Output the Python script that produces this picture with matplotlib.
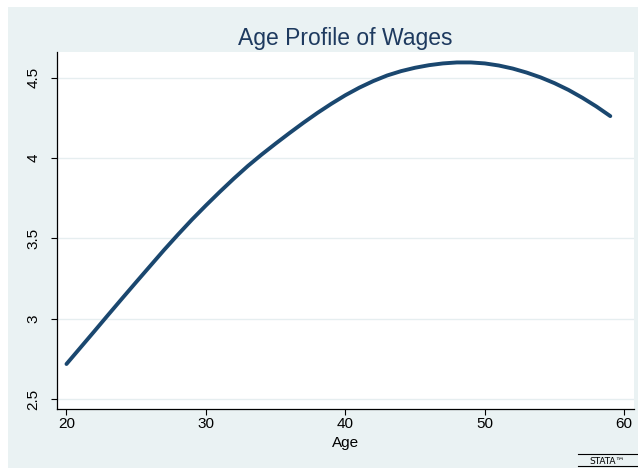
import matplotlib
matplotlib.use("Agg")
import matplotlib.pyplot as plt
from matplotlib.patches import Rectangle
from matplotlib.lines import Line2D

ages = list(range(20, 60))
wages = [2.718, 2.820, 2.922, 3.025, 3.127, 3.228, 3.328, 3.428, 3.524, 3.617,
         3.705, 3.790, 3.872, 3.950, 4.022, 4.090, 4.156, 4.220, 4.281, 4.338,
         4.391, 4.438, 4.479, 4.514, 4.541, 4.562, 4.578, 4.589, 4.595, 4.595,
         4.589, 4.576, 4.557, 4.532, 4.502, 4.466, 4.424, 4.375, 4.321, 4.261]
x_ticks = [20, 30, 40, 50, 60]
y_ticks = [2.5, 3, 3.5, 4, 4.5]
y_tick_labels = ["2.5", "3", "3.5", "4", "4.5"]
title = "Age Profile of Wages"
x_label = "Age"

plt.rcParams['font.family'] = ['Liberation Sans', 'DejaVu Sans']

W, H = 638, 468
fig = plt.figure(figsize=(W / 100, H / 100), dpi=100, facecolor="white")
bg = "#EAF2F3"
fig.patches.append(Rectangle((8 / W, 0), 1 - 8 / W, 1 - 7 / H, transform=fig.transFigure,
                             facecolor=bg, edgecolor="none", zorder=-10))

left, right, top, bottom = 57, 634, 52, 409
ax = fig.add_axes([left / W, (H - bottom) / H, (right - left) / W, (bottom - top) / H])
ax.set_facecolor("white")
ax.plot(ages, wages, color="#1A476F", linewidth=2.8, solid_capstyle="round", zorder=3)

ax.set_xlim(19.32, 60.7)
ax.set_ylim(2.438, 4.66)
ax.set_xticks(x_ticks)
ax.set_yticks(y_ticks)
ax.set_yticklabels(y_tick_labels, rotation=90, va="center")
for y in y_ticks:
    ax.axhline(y, color="#E6EEF0", linewidth=1.0, zorder=1)

for s in ["top", "right"]:
    ax.spines[s].set_visible(False)
for s in ["left", "bottom"]:
    ax.spines[s].set_color("black")
    ax.spines[s].set_linewidth(0.9)
ax.tick_params(axis="x", direction="out", length=4, width=0.8, pad=2, labelsize=11, colors="black")
ax.tick_params(axis="y", direction="out", length=4, width=0.8, pad=8, labelsize=11, colors="black")

fig.text((left + right) / 2 / W, 1 - 45.5 / H, title, ha="center", va="baseline",
         fontsize=16.5, color="#1E3A5F")
fig.text((left + right) / 2 / W, 1 - 447 / H, x_label, ha="center", va="baseline",
         fontsize=11, color="black")

# Stata logo
fig.text(607 / W, 1 - 463.5 / H, "STATA\u2122", ha="center", va="baseline", fontsize=6.5,
         color="black", fontfamily="DejaVu Sans")
fig.lines.append(Line2D([578 / W, 637 / W], [1 - 454 / H, 1 - 454 / H], transform=fig.transFigure,
                        color="black", linewidth=0.8))
fig.lines.append(Line2D([578 / W, 637 / W], [1 - 465.5 / H, 1 - 465.5 / H], transform=fig.transFigure,
                        color="black", linewidth=0.8))

fig.savefig("out.png", dpi=100, facecolor="white")
